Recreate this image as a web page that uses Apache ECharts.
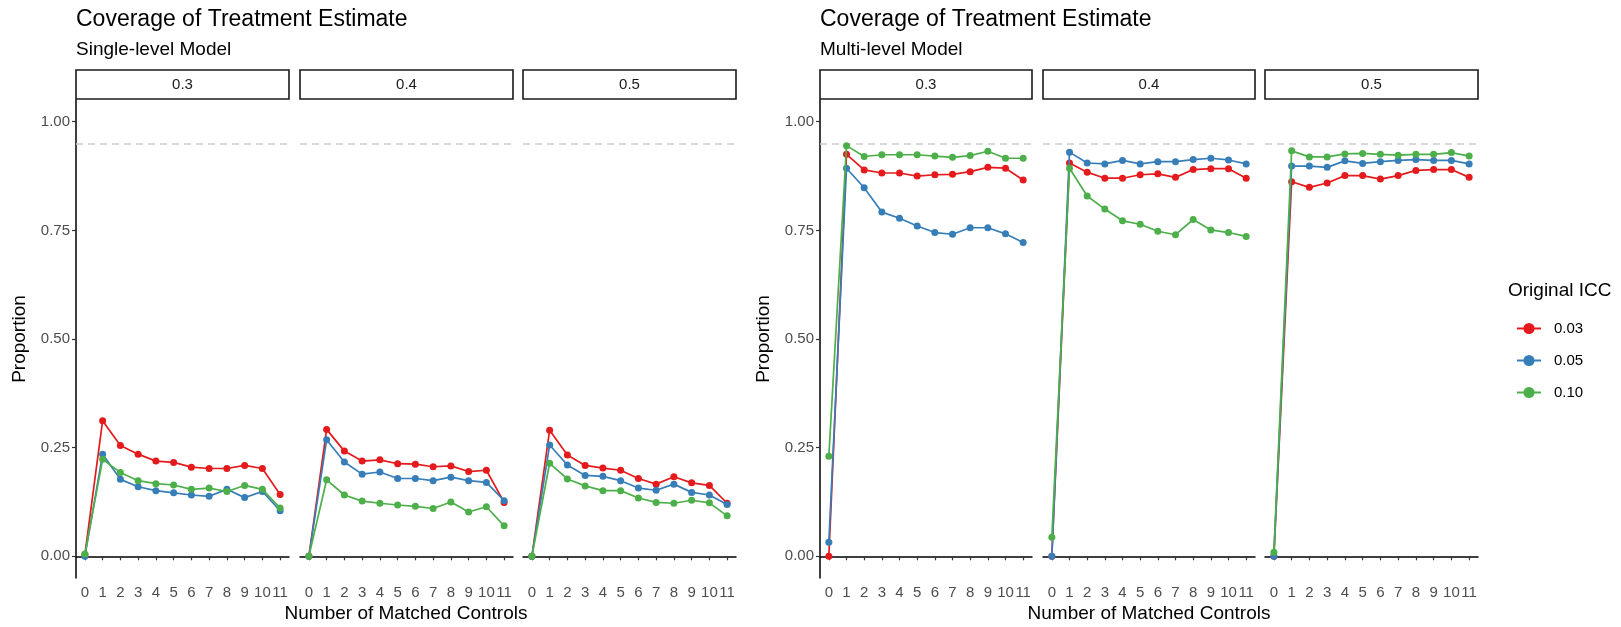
<!DOCTYPE html>
<html>
<head>
<meta charset="utf-8">
<title>Coverage of Treatment Estimate</title>
<script src="https://cdn.jsdelivr.net/npm/echarts@6/dist/echarts.min.js"></script>
<style>
  html, body { margin: 0; padding: 0; background: #ffffff; }
  #chart { width: 1621px; height: 627px; }
</style>
</head>
<body>
<div id="chart"></div>
<script>
// Number of matched controls (x categories)
const matchedControls = ['0', '1', '2', '3', '4', '5', '6', '7', '8', '9', '10', '11'];
// Original ICC groups and facet labels
const iccLevels = ['0.03', '0.05', '0.10'];
const facetLabels = ['0.3', '0.4', '0.5'];
const yTicks = [0, 0.25, 0.5, 0.75, 1];
const nominalCoverage = 0.95;

// Single-level model coverage
const single03_icc003 = [0.004, 0.312, 0.255, 0.235, 0.219, 0.216, 0.205, 0.202, 0.202, 0.209, 0.202, 0.142];
const single03_icc005 = [0.000, 0.235, 0.177, 0.160, 0.151, 0.146, 0.141, 0.138, 0.154, 0.135, 0.149, 0.105];
const single03_icc010 = [0.005, 0.223, 0.193, 0.174, 0.167, 0.164, 0.154, 0.157, 0.149, 0.163, 0.154, 0.111];

const single04_icc003 = [0.000, 0.292, 0.242, 0.219, 0.222, 0.213, 0.212, 0.206, 0.208, 0.195, 0.198, 0.124];
const single04_icc005 = [0.000, 0.268, 0.217, 0.189, 0.194, 0.179, 0.179, 0.174, 0.182, 0.174, 0.170, 0.128];
const single04_icc010 = [0.000, 0.176, 0.141, 0.127, 0.122, 0.118, 0.115, 0.110, 0.125, 0.102, 0.114, 0.070];

const single05_icc003 = [0.000, 0.290, 0.233, 0.209, 0.203, 0.198, 0.179, 0.166, 0.183, 0.169, 0.163, 0.122];
const single05_icc005 = [0.000, 0.256, 0.210, 0.186, 0.184, 0.174, 0.157, 0.152, 0.166, 0.147, 0.141, 0.119];
const single05_icc010 = [0.000, 0.214, 0.178, 0.162, 0.151, 0.151, 0.134, 0.124, 0.122, 0.129, 0.123, 0.093];

// Multi-level model coverage
const multi03_icc003 = [0.000, 0.925, 0.889, 0.882, 0.882, 0.875, 0.878, 0.879, 0.885, 0.895, 0.893, 0.866];
const multi03_icc005 = [0.032, 0.893, 0.848, 0.792, 0.778, 0.760, 0.745, 0.741, 0.756, 0.756, 0.742, 0.722];
const multi03_icc010 = [0.230, 0.945, 0.920, 0.924, 0.924, 0.924, 0.921, 0.918, 0.922, 0.932, 0.916, 0.916];

const multi04_icc003 = [0.000, 0.905, 0.884, 0.870, 0.870, 0.878, 0.880, 0.872, 0.890, 0.892, 0.892, 0.870];
const multi04_icc005 = [0.000, 0.930, 0.905, 0.903, 0.911, 0.903, 0.908, 0.908, 0.913, 0.916, 0.912, 0.903];
const multi04_icc010 = [0.044, 0.893, 0.829, 0.799, 0.772, 0.764, 0.748, 0.740, 0.775, 0.751, 0.745, 0.736];

const multi05_icc003 = [0.000, 0.862, 0.849, 0.859, 0.876, 0.876, 0.868, 0.876, 0.888, 0.890, 0.890, 0.872];
const multi05_icc005 = [0.000, 0.898, 0.898, 0.895, 0.910, 0.904, 0.908, 0.911, 0.913, 0.911, 0.911, 0.903];
const multi05_icc010 = [0.009, 0.933, 0.919, 0.919, 0.926, 0.927, 0.925, 0.923, 0.925, 0.925, 0.929, 0.921];

const singlePanels = [
  [single03_icc003, single03_icc005, single03_icc010],
  [single04_icc003, single04_icc005, single04_icc010],
  [single05_icc003, single05_icc005, single05_icc010]
];
const multiPanels = [
  [multi03_icc003, multi03_icc005, multi03_icc010],
  [multi04_icc003, multi04_icc005, multi04_icc010],
  [multi05_icc003, multi05_icc005, multi05_icc010]
];

// Styling / layout
const FONT = '"Liberation Sans", Arial, Helvetica, sans-serif';
const colors = ['#E41A1C', '#377EB8', '#4DAF4A'];
const panelTop = 100;
const panelHeight = 478;
const stripTop = 70;
const stripHeight = 29;
const panelLefts = [76, 300, 523, 820, 1043, 1265];
const panelWidths = [213, 213, 213, 212, 212, 213];

const chart = echarts.init(document.getElementById('chart'), null, { renderer: 'canvas' });

const grids = [], xAxes = [], yAxes = [], series = [], graphics = [];

panelLefts.forEach((left, i) => {
  const width = panelWidths[i];
  const firstInRow = (i % 3) === 0;
  grids.push({ left: left, top: panelTop, width: width, height: panelHeight, containLabel: false });

  xAxes.push({
    type: 'category',
    gridIndex: i,
    data: matchedControls,
    boundaryGap: true,
    axisLine: { show: true, lineStyle: { color: '#000000', width: 1.5 } },
    axisTick: { show: true, alignWithLabel: true, interval: 0, length: 4, lineStyle: { color: '#333333', width: 1.2 } },
    axisLabel: { interval: 0, fontSize: 15, color: '#4d4d4d', fontFamily: FONT, margin: 7, hideOverlap: false },
    splitLine: { show: false }
  });

  yAxes.push({
    type: 'value',
    gridIndex: i,
    min: -0.05,
    max: 1.05,
    name: firstInRow ? 'Proportion' : '',
    nameLocation: 'middle',
    nameGap: 47,
    nameTextStyle: { fontSize: 19, color: '#000000', fontFamily: FONT },
    axisLine: { show: firstInRow, lineStyle: { color: '#000000', width: 1.5 } },
    axisTick: { show: firstInRow, length: 4, customValues: yTicks, lineStyle: { color: '#333333', width: 1.2 } },
    axisLabel: {
      show: firstInRow, fontSize: 15, color: '#4d4d4d', fontFamily: FONT, margin: 6,
      customValues: yTicks,
      formatter: v => v.toFixed(2)
    },
    splitLine: { show: false }
  });

  const panelData = i < 3 ? singlePanels[i] : multiPanels[i - 3];
  panelData.forEach((values, k) => {
    const s = {
      name: iccLevels[k],
      type: 'line',
      xAxisIndex: i,
      yAxisIndex: i,
      data: values,
      symbol: 'circle',
      symbolSize: 7,
      showSymbol: true,
      color: colors[k],
      lineStyle: { width: 1.7, color: colors[k] },
      itemStyle: { color: colors[k] },
      emphasis: { disabled: true },
      animation: false,
      z: 3 + k
    };
    if (k === 0) {
      s.markLine = {
        silent: true,
        symbol: ['none', 'none'],
        label: { show: false },
        lineStyle: { color: '#cccccc', type: [7, 5], width: 1.5 },
        data: [{ yAxis: nominalCoverage }],
        z: 1
      };
    }
    series.push(s);
  });

  // facet strip
  graphics.push({
    type: 'rect',
    shape: { x: left, y: stripTop, width: width, height: stripHeight },
    style: { fill: '#ffffff', stroke: '#1a1a1a', lineWidth: 1.6 },
    silent: true
  });
  graphics.push({
    type: 'text',
    style: {
      x: left + width / 2, y: stripTop + stripHeight / 2,
      text: facetLabels[i % 3],
      font: '15px ' + FONT, fill: '#1a1a1a',
      textAlign: 'center', textVerticalAlign: 'middle'
    },
    silent: true
  });
});

// titles, subtitles and x-axis titles for the two plots
const plotBlocks = [
  { left: 76, subtitle: 'Single-level Model', center: (76 + 736) / 2 },
  { left: 820, subtitle: 'Multi-level Model', center: (820 + 1478) / 2 }
];
plotBlocks.forEach(b => {
  graphics.push({
    type: 'text',
    style: { x: b.left, y: 8, text: 'Coverage of Treatment Estimate', font: '23px ' + FONT, fill: '#000000', textAlign: 'left', textVerticalAlign: 'top' },
    silent: true
  });
  graphics.push({
    type: 'text',
    style: { x: b.left, y: 40, text: b.subtitle, font: '19px ' + FONT, fill: '#000000', textAlign: 'left', textVerticalAlign: 'top' },
    silent: true
  });
  graphics.push({
    type: 'text',
    style: { x: b.center, y: 614, text: 'Number of Matched Controls', font: '19px ' + FONT, fill: '#000000', textAlign: 'center', textVerticalAlign: 'middle' },
    silent: true
  });
});

// legend title
graphics.push({
  type: 'text',
  style: { x: 1508, y: 291, text: 'Original ICC', font: '19px ' + FONT, fill: '#000000', textAlign: 'left', textVerticalAlign: 'middle' },
  silent: true
});

chart.setOption({
  animation: false,
  backgroundColor: '#ffffff',
  textStyle: { fontFamily: FONT },
  grid: grids,
  xAxis: xAxes,
  yAxis: yAxes,
  series: series,
  legend: {
    data: iccLevels,
    orient: 'vertical',
    left: 1511,
    top: 316,
    itemWidth: 24,
    itemHeight: 14,
    itemGap: 17,
    selectedMode: false,
    textStyle: { fontSize: 15, color: '#000000', fontFamily: FONT, padding: [0, 0, 0, 8] }
  },
  graphic: graphics
});
</script>
</body>
</html>
